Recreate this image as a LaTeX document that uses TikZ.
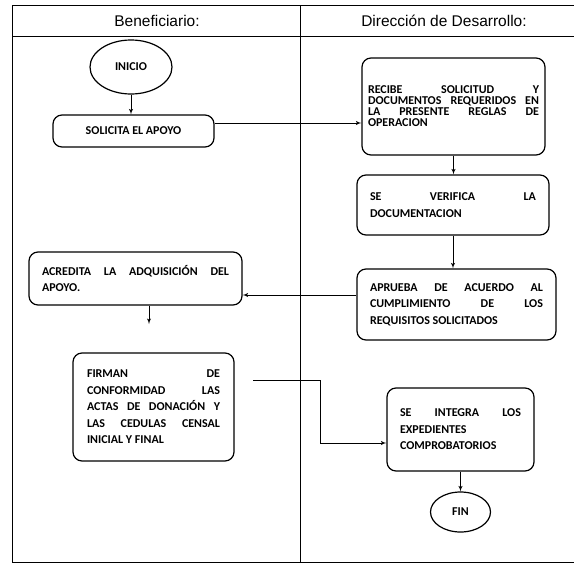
\documentclass[tikz,border=0pt]{standalone}
\usepackage{fontspec}
\setmainfont{Carlito}
\newfontfamily\cabecera{Liberation Sans}
\usetikzlibrary{arrows, shapes.geometric}

\begin{document}
\begin{tikzpicture}[x=1pt,y=-1pt,inner sep=0pt,>=latex',line width=1.2pt,
  caja/.style={draw,rounded corners=9pt,align=justify,font=\fontsize{12}{16.5}\selectfont\bfseries},
  elipse/.style={draw,ellipse,font=\fontsize{12}{13}\selectfont\bfseries},
  titulo/.style={font=\cabecera\fontsize{15.5}{17}\selectfont},
  flecha/.style={->,line width=.9pt}]
\useasboundingbox (0,0) rectangle (574,565);
\draw [line width=.9pt] (12,5) rectangle (590,562);
\draw [line width=.9pt] (12,36) -- (590,36);
\draw [line width=.9pt] (300,5) -- (300,562);
\draw node [titulo] (benef) at (157,21) {Beneficiario:};
\draw node [titulo] (direc) at (444,21) {Dirección de Desarrollo:};

\draw node [elipse,minimum width=82pt,minimum height=54pt] (inicio) at (131,67) {INICIO};
\draw node [caja,align=center,minimum width=161pt,minimum height=32pt] (solicita) at (133.5,131) {SOLICITA EL APOYO};
\draw node [caja,text width=171pt,minimum width=183pt,minimum height=97pt,font=\fontsize{12}{11}\selectfont\bfseries] (recibe) at (453.5,106.5)
  {RECIBE SOLICITUD Y\linebreak DOCUMENTOS REQUERIDOS EN\linebreak LA PRESENTE REGLAS DE\linebreak OPERACION\par\vspace*{29pt}};
\draw node [caja,text width=166pt,minimum width=192pt,minimum height=60pt] (verifica) at (453,205) {SE VERIFICA LA\linebreak DOCUMENTACION};
\draw node [caja,text width=173pt,minimum width=199pt,minimum height=71pt] (aprueba) at (456.5,304.5)
  {APRUEBA DE ACUERDO AL\linebreak CUMPLIMIENTO DE LOS\linebreak REQUISITOS SOLICITADOS};
\draw node [caja,text width=187pt,minimum width=213pt,minimum height=53pt] (acredita) at (135.5,278.5) {ACREDITA LA ADQUISICIÓN DEL\linebreak APOYO.};
\draw node [caja,text width=133pt,minimum width=161pt,minimum height=108pt] (firman) at (153.5,407)
  {FIRMAN DE\linebreak CONFORMIDAD LAS\linebreak ACTAS DE DONACIÓN Y\linebreak LAS CEDULAS CENSAL\linebreak INICIAL Y FINAL};
\draw node [caja,text width=121pt,minimum width=147pt,minimum height=83pt] (seintegra) at (460.5,429.5)
  {SE INTEGRA LOS\linebreak EXPEDIENTES\\ COMPROBATORIOS};
\draw node [elipse,minimum width=60pt,minimum height=40pt] (fin) at (460.5,512) {FIN};

\coordinate (pausa) at (149,324);
\coordinate (salida) at (253,380);
\coordinate (codo) at (320,443);
\draw [flecha] (inicio.south) -- (inicio.south |- solicita.north);
\draw [flecha] ([yshift=8pt]solicita.east) -- ([yshift=8pt]solicita.east -| recibe.west);
\draw [flecha] (recibe.south) -- (recibe.south |- verifica.north);
\draw [flecha] (verifica.south) -- (verifica.south |- aprueba.north);
\draw [flecha] ([yshift=9.5pt]aprueba.west) -- ([yshift=9.5pt]aprueba.west -| acredita.east);
\draw [flecha] (acredita.south -| pausa) -- (pausa);
\draw [flecha] (salida) -| (codo) -- (codo -| seintegra.west);
\draw [flecha] (seintegra.south) -- (fin.north);
\end{tikzpicture}
\end{document}
